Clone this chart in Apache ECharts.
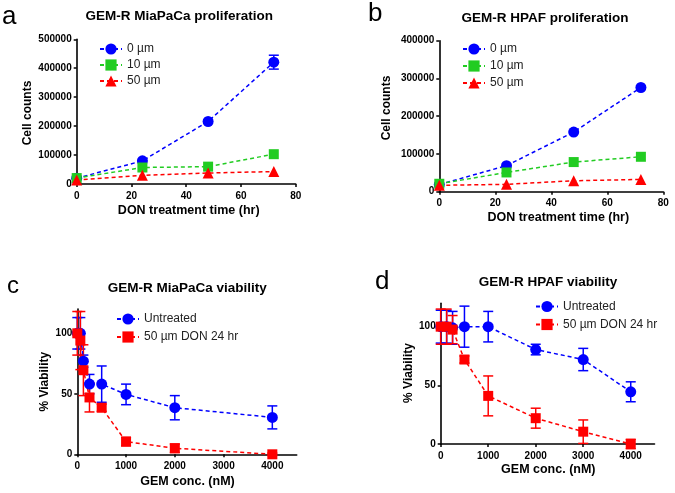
<!DOCTYPE html>
<html><head><meta charset="utf-8">
<script src="https://cdn.jsdelivr.net/npm/echarts@6/dist/echarts.min.js"></script>
<style>html,body{margin:0;padding:0;background:#fff}#c{width:675px;height:493px}</style>
</head><body><div id="c"></div>
<script>
// ---- Data ----
const timeHr = [0, 24, 48, 72];
// Panel a: GEM-R MiaPaCa proliferation
const aDon0 = [20000, 80000, 216000, 421000];
const aDon0Err = [0, 0, 0, 24000];
const aDon10 = [20500, 57000, 60000, 103000];
const aDon50 = [13500, 30000, 38000, 43000];
// Panel b: GEM-R HPAF proliferation
const bDon0 = [19000, 69000, 158000, 276000];
const bDon10 = [21000, 51000, 78500, 92500];
const bDon50 = [17000, 19500, 29000, 32500];
// Panel c: GEM-R MiaPaCa viability
const cGem = [0, 62.5, 125, 250, 500, 1000, 2000, 4000];
const cUntreated = [100, 100, 77, 58, 58, 49.5, 38.5, 30.5];
const cUntreatedErr = [13, 13, 5, 8, 15, 8.5, 10, 9.5];
const cDon = [100, 94, 69.5, 47, 38.5, 10.5, 5, 0];
const cDonErr = [18, 24, 21, 12, 3, 3.5, 3.5, 1];
// Panel d: GEM-R HPAF viability
const dGem = [0, 125, 250, 500, 1000, 2000, 3000, 4000];
const dUntreated = [100, 100, 99, 100, 100, 80.5, 72, 44.5];
const dUntreatedErr = [14, 14, 14, 17.5, 13, 4.5, 9.5, 8.5];
const dDon = [100, 100, 97.5, 72, 41, 22, 10.5, 0];
const dDonErr = [15, 15, 12, 3, 17, 8.5, 10, 4];
// Tick labels
const timeTicks = [0, 20, 40, 60, 80];
const aCountTicks = [0, 100000, 200000, 300000, 400000, 500000];
const bCountTicks = [0, 100000, 200000, 300000, 400000];
const gemTicks = [0, 1000, 2000, 3000, 4000];
const viabTicks = [0, 50, 100];
const legProlif = ['0 µm', '10 µm', '50 µm'];
const legViab = ['Untreated', '50 µm DON 24 hr'];

// ---- Styles ----
const BLUE = '#0000ff', GREEN = '#22cc22', RED = '#ff0000';
const FONT = 'Liberation Sans, Arial, sans-serif';

function pairs(xs, ys) { return xs.map((x, i) => [x, ys[i]]); }
function errData(xs, ys, es) { return xs.map((x, i) => [x, ys[i] - es[i], ys[i] + es[i]]).filter((d, i) => es[i] > 0); }

function xAx(gi, min, max, ticks) {
  return {
    type: 'value', gridIndex: gi, min: min, max: max,
    axisLine: { show: true, lineStyle: { color: '#000', width: 1.6 } },
    axisTick: { show: true, length: 3, lineStyle: { color: '#000', width: 1.5 }, customValues: ticks },
    axisLabel: { show: true, customValues: ticks, margin: 7, color: '#000', fontFamily: FONT, fontWeight: 'bold', fontSize: 10, formatter: v => String(v) },
    splitLine: { show: false }
  };
}
function yAx(gi, min, max, ticks) {
  return {
    type: 'value', gridIndex: gi, min: min, max: max,
    axisLine: { show: true, lineStyle: { color: '#000', width: 1.6 } },
    axisTick: { show: true, length: 3, lineStyle: { color: '#000', width: 1.5 }, customValues: ticks },
    axisLabel: { show: true, customValues: ticks, margin: 5, color: '#000', fontFamily: FONT, fontWeight: 'bold', fontSize: 10, formatter: v => String(v) },
    splitLine: { show: false }
  };
}
function lineS(name, gi, data, color, symbol, size) {
  return {
    type: 'line', name: name, xAxisIndex: gi, yAxisIndex: gi, data: data,
    symbol: symbol, symbolSize: size, showSymbol: true, clip: false,
    lineStyle: { color: color, width: 1.5, type: [4, 3] },
    itemStyle: { color: color, borderWidth: 0 },
    z: 3, animation: false
  };
}
function errS(gi, data, color) {
  return {
    type: 'custom', xAxisIndex: gi, yAxisIndex: gi, data: data, z: 2, animation: false, clip: false,
    renderItem: function (params, api) {
      const x = api.value(0), lo = api.value(1), hi = api.value(2);
      const p1 = api.coord([x, hi]), p2 = api.coord([x, lo]);
      const w = 5;
      const st = { stroke: color, lineWidth: 1.5, fill: null };
      return {
        type: 'group', children: [
          { type: 'line', shape: { x1: p1[0], y1: p1[1], x2: p2[0], y2: p2[1] }, style: st },
          { type: 'line', shape: { x1: p1[0] - w, y1: p1[1], x2: p1[0] + w, y2: p1[1] }, style: st },
          { type: 'line', shape: { x1: p2[0] - w, y1: p2[1], x2: p2[0] + w, y2: p2[1] }, style: st }
        ]
      };
    }
  };
}
function legend(left, top, data, gap) {
  return {
    left: left, top: top, orient: 'vertical', data: data, itemWidth: 22, itemHeight: 14, itemGap: gap,
    selectedMode: false, padding: 0,
    textStyle: { color: '#222', fontFamily: FONT, fontSize: 12, lineHeight: 14, padding: [0, 0, 0, 0] }
  };
}
function txt(x, y, s, size, weight, align, rot) {
  return {
    type: 'text', x: x, y: y, rotation: rot || 0,
    style: { text: s, fill: '#000', font: (weight || 'normal') + ' ' + size + 'px ' + FONT, textAlign: align || 'center', textVerticalAlign: 'middle' }
  };
}

const chart = echarts.init(document.getElementById('c'), null, { renderer: 'canvas' });
chart.setOption({
  animation: false,
  backgroundColor: '#fff',
  grid: [
    { left: 76.7, top: 39.3, width: 219, height: 144.7 },
    { left: 439.3, top: 40.7, width: 224, height: 151 },
    { left: 77.3, top: 309.1, width: 219.4, height: 145.2 },
    { left: 440.7, top: 303.2, width: 213.8, height: 140.8 }
  ],
  xAxis: [xAx(0, 0, 80, timeTicks), xAx(1, 0, 80, timeTicks), xAx(2, 0, 4500, gemTicks), xAx(3, 0, 4500, gemTicks)],
  yAxis: [yAx(0, 0, 500000, aCountTicks), yAx(1, 0, 400000, bCountTicks), yAx(2, 0, 120, viabTicks), yAx(3, 0, 120, viabTicks)],
  legend: [
    legend(99, 42, legProlif, 2),
    legend(462, 42, legProlif, 3),
    legend(116, 312, legViab, 4),
    legend(535, 299.5, legViab, 4)
  ],
  series: [
    errS(0, errData(timeHr, aDon0, aDon0Err), BLUE),
    lineS(legProlif[0], 0, pairs(timeHr, aDon0), BLUE, 'circle', 11),
    lineS(legProlif[1], 0, pairs(timeHr, aDon10), GREEN, 'rect', 10),
    lineS(legProlif[2], 0, pairs(timeHr, aDon50), RED, 'triangle', 11),
    lineS(legProlif[0], 1, pairs(timeHr, bDon0), BLUE, 'circle', 11),
    lineS(legProlif[1], 1, pairs(timeHr, bDon10), GREEN, 'rect', 10),
    lineS(legProlif[2], 1, pairs(timeHr, bDon50), RED, 'triangle', 11),
    errS(2, errData(cGem, cUntreated, cUntreatedErr), BLUE),
    lineS(legViab[0], 2, pairs(cGem, cUntreated), BLUE, 'circle', 11),
    errS(2, errData(cGem, cDon, cDonErr), RED),
    lineS(legViab[1], 2, pairs(cGem, cDon), RED, 'rect', 10),
    errS(3, errData(dGem, dUntreated, dUntreatedErr), BLUE),
    lineS(legViab[0], 3, pairs(dGem, dUntreated), BLUE, 'circle', 11),
    errS(3, errData(dGem, dDon, dDonErr), RED),
    lineS(legViab[1], 3, pairs(dGem, dDon), RED, 'rect', 10)
  ],
  graphic: [
    txt(2, 17, 'a', 26, 'normal', 'left'),
    txt(368, 14, 'b', 26, 'normal', 'left'),
    txt(7, 286, 'c', 24, 'normal', 'left'),
    txt(375, 282, 'd', 26, 'normal', 'left'),
    txt(179.2, 16.7, 'GEM-R MiaPaCa proliferation', 13.5, 'bold'),
    txt(545, 18.3, 'GEM-R HPAF proliferation', 13.5, 'bold'),
    txt(187.2, 288.3, 'GEM-R MiaPaCa viability', 13.5, 'bold'),
    txt(548, 282.7, 'GEM-R HPAF viability', 13.5, 'bold'),
    txt(188.7, 211, 'DON treatment time (hr)', 12.5, 'bold'),
    txt(558.3, 217.3, 'DON treatment time (hr)', 12.5, 'bold'),
    txt(187.5, 481.7, 'GEM conc. (nM)', 12.5, 'bold'),
    txt(548.3, 470, 'GEM conc. (nM)', 12.5, 'bold'),
    txt(27.5, 113, 'Cell counts', 12, 'bold', 'center', Math.PI / 2),
    txt(386.5, 108, 'Cell counts', 12, 'bold', 'center', Math.PI / 2),
    txt(45, 381.7, '% Viability', 12, 'bold', 'center', Math.PI / 2),
    txt(408.7, 373, '% Viability', 12, 'bold', 'center', Math.PI / 2)
  ]
});
</script></body></html>
